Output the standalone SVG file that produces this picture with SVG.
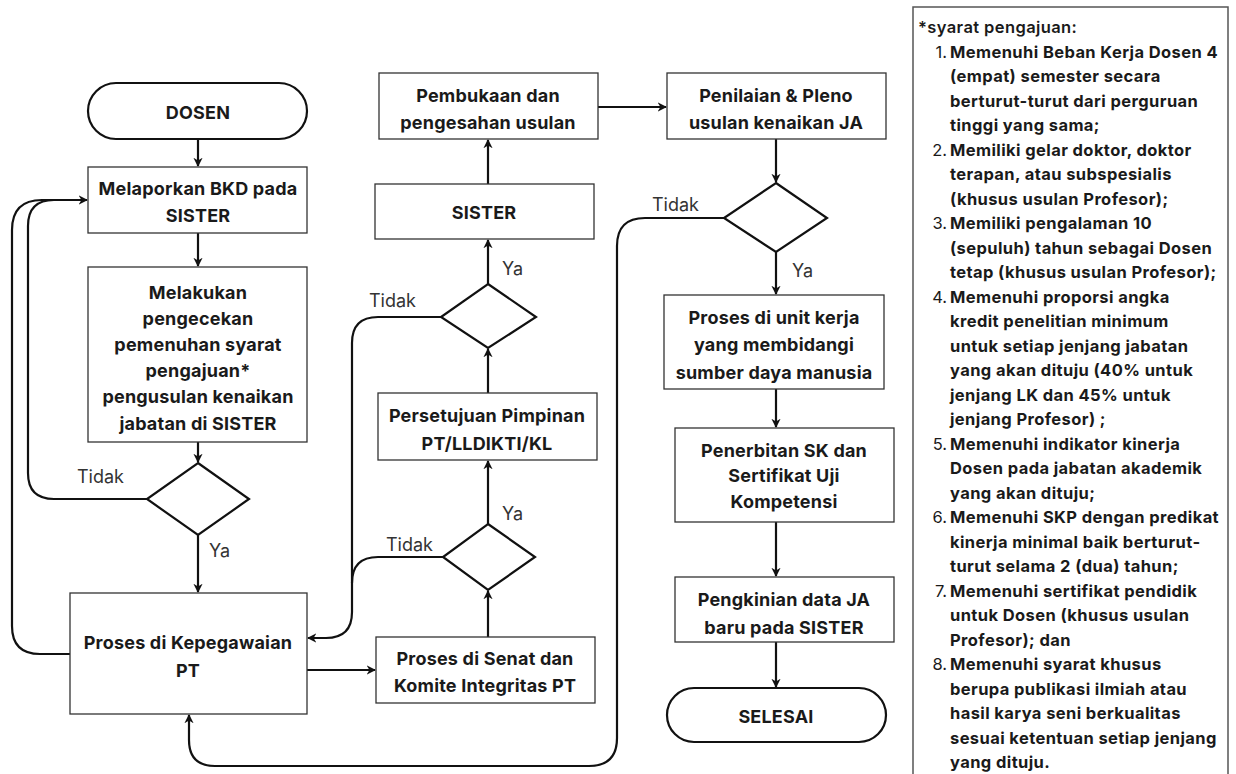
<svg xmlns="http://www.w3.org/2000/svg" width="1236" height="774" viewBox="0 0 1236 774">
<style>
.box{fill:#fff;stroke:#333;stroke-width:1.3}
.term{fill:#fff;stroke:#111;stroke-width:2.2}
.dia{fill:#fff;stroke:#111;stroke-width:2.2}
.t{font-family:Inter,"Liberation Sans",sans-serif;font-weight:700;font-size:18px;letter-spacing:0.2px;fill:#1a1a1a;text-anchor:middle;dominant-baseline:central}
.lbl{font-family:Inter,"Liberation Sans",sans-serif;font-weight:400;font-size:18px;fill:#333;dominant-baseline:central}
.c{fill:none;stroke:#111;stroke-width:2.2}
.p{font-family:Inter,"Liberation Sans",sans-serif;font-weight:700;font-size:16.5px;letter-spacing:0.4px;fill:#1a1a1a;dominant-baseline:central}
.n{font-family:Inter,"Liberation Sans",sans-serif;font-weight:400;font-size:16.5px;fill:#1a1a1a;dominant-baseline:central;text-anchor:end}
</style>
<defs>
<marker id="ah" viewBox="0 0 10 10" refX="9" refY="5" markerWidth="4.2" markerHeight="4.2" orient="auto" markerUnits="strokeWidth">
<path d="M0,0 L10,5 L0,10 L3,5 z" fill="#111"/>
</marker>
</defs>
<rect width="1236" height="774" fill="#fff"/>

<g id="connectors">
<path class="c" d="M198,139 V166" marker-end="url(#ah)"/>
<path class="c" d="M198,233 V266" marker-end="url(#ah)"/>
<path class="c" d="M198,442 V462" marker-end="url(#ah)"/>
<path class="c" d="M198,535 V592" marker-end="url(#ah)"/>
<path class="c" d="M147,499 H54 Q28,499 28,473 V226 Q28,200 54,200 H87" marker-end="url(#ah)"/>
<path class="c" d="M70,654 H40 Q12,654 12,626 V230 Q12,200 42,200 H60"/>
<path class="c" d="M307,670 H375" marker-end="url(#ah)"/>
<path class="c" d="M488,637 V591" marker-end="url(#ah)"/>
<path class="c" d="M488,524 V461" marker-end="url(#ah)"/>
<path class="c" d="M488,393 V349" marker-end="url(#ah)"/>
<path class="c" d="M488,284 V240" marker-end="url(#ah)"/>
<path class="c" d="M488,184 V140" marker-end="url(#ah)"/>
<path class="c" d="M441,317 H378 Q352,317 352,343 V612 Q352,638 326,638 H308" marker-end="url(#ah)"/>
<path class="c" d="M443,557 H378 Q352,557 352,583"/>
<path class="c" d="M598,107 H666" marker-end="url(#ah)"/>
<path class="c" d="M776,139 V182" marker-end="url(#ah)"/>
<path class="c" d="M776,252 V294" marker-end="url(#ah)"/>
<path class="c" d="M776,389 V427" marker-end="url(#ah)"/>
<path class="c" d="M776,522 V576" marker-end="url(#ah)"/>
<path class="c" d="M776,642 V687" marker-end="url(#ah)"/>
<path class="c" d="M724,218 H645 Q617,218 617,246 V738 Q617,766 589,766 H215 Q189,766 189,740 V715" marker-end="url(#ah)"/>
<text class="lbl" x="77" y="476">Tidak</text>
<text class="lbl" x="209" y="550">Ya</text>
<text class="lbl" x="369" y="300">Tidak</text>
<text class="lbl" x="502" y="268">Ya</text>
<text class="lbl" x="386" y="544">Tidak</text>
<text class="lbl" x="502" y="513">Ya</text>
<text class="lbl" x="652" y="204">Tidak</text>
<text class="lbl" x="792" y="270">Ya</text>
</g>

<g id="dosen">
<rect class="term" x="88" y="83" width="219" height="56" rx="28"/>
<text class="t" x="198" y="112">DOSEN</text>
</g>
<g id="melaporkan">
<rect class="box" x="88" y="167" width="219" height="66"/>
<text class="t" x="198" y="188">Melaporkan BKD pada</text>
<text class="t" x="198" y="215">SISTER</text>
</g>
<g id="melakukan">
<rect class="box" x="88" y="267" width="219" height="175"/>
<text class="t" x="198" y="292">Melakukan</text>
<text class="t" x="198" y="318">pengecekan</text>
<text class="t" x="198" y="344">pemenuhan syarat</text>
<text class="t" x="198" y="370">pengajuan*</text>
<text class="t" x="198" y="396">pengusulan kenaikan</text>
<text class="t" x="198" y="423">jabatan di SISTER</text>
</g>
<g id="dec1">
<polygon class="dia" points="198,463 249,499 198,535 147,499"/>
</g>
<g id="kepegawaian">
<rect class="box" x="70" y="593" width="237" height="121"/>
<text class="t" x="188" y="642">Proses di Kepegawaian</text>
<text class="t" x="188" y="670">PT</text>
</g>
<g id="senat">
<rect class="box" x="376" y="637" width="219" height="66"/>
<text class="t" x="485" y="658">Proses di Senat dan</text>
<text class="t" x="485" y="685">Komite Integritas PT</text>
</g>
<g id="dec2">
<polygon class="dia" points="488,524 535,557 488,590 443,557"/>
</g>
<g id="persetujuan">
<rect class="box" x="378" y="393" width="219" height="67"/>
<text class="t" x="487" y="415">Persetujuan Pimpinan</text>
<text class="t" x="487" y="443">PT/LLDIKTI/KL</text>
</g>
<g id="dec3">
<polygon class="dia" points="488,284 536,317 488,348 441,317"/>
</g>
<g id="sister">
<rect class="box" x="375" y="184" width="219" height="55"/>
<text class="t" x="484" y="212">SISTER</text>
</g>
<g id="pembukaan">
<rect class="box" x="379" y="73" width="219" height="66"/>
<text class="t" x="488" y="95">Pembukaan dan</text>
<text class="t" x="488" y="122">pengesahan usulan</text>
</g>
<g id="penilaian">
<rect class="box" x="667" y="73" width="219" height="66"/>
<text class="t" x="776" y="95">Penilaian &amp; Pleno</text>
<text class="t" x="776" y="122">usulan kenaikan JA</text>
</g>
<g id="dec4">
<polygon class="dia" points="776,183 827,218 776,252 724,218"/>
</g>
<g id="unit">
<rect class="box" x="664" y="295" width="220" height="94"/>
<text class="t" x="774" y="317">Proses di unit kerja</text>
<text class="t" x="774" y="344">yang membidangi</text>
<text class="t" x="774" y="372">sumber daya manusia</text>
</g>
<g id="penerbitan">
<rect class="box" x="675" y="428" width="219" height="94"/>
<text class="t" x="784" y="450">Penerbitan SK dan</text>
<text class="t" x="784" y="475">Sertifikat Uji</text>
<text class="t" x="784" y="501">Kompetensi</text>
</g>
<g id="pengkinian">
<rect class="box" x="675" y="577" width="219" height="65"/>
<text class="t" x="784" y="599">Pengkinian data JA</text>
<text class="t" x="784" y="627">baru pada SISTER</text>
</g>
<g id="selesai">
<rect class="term" x="667" y="688" width="219" height="54" rx="27"/>
<text class="t" x="776" y="716">SELESAI</text>
</g>

<g id="syarat">
<rect x="913" y="7" width="315" height="780" fill="#fff" stroke="#555" stroke-width="1.5"/>
<text class="p" x="918" y="27" style="font-weight:600">*syarat pengajuan:</text>
<text class="n" x="947" y="51.5">1.</text>
<text class="p" x="950" y="51.5">Memenuhi Beban Kerja Dosen 4</text>
<text class="p" x="950" y="76">(empat) semester secara</text>
<text class="p" x="950" y="100.5">berturut-turut dari perguruan</text>
<text class="p" x="950" y="125">tinggi yang sama;</text>
<text class="n" x="947" y="149.5">2.</text>
<text class="p" x="950" y="149.5">Memiliki gelar doktor, doktor</text>
<text class="p" x="950" y="174">terapan, atau subspesialis</text>
<text class="p" x="950" y="198.5">(khusus usulan Profesor);</text>
<text class="n" x="947" y="223">3.</text>
<text class="p" x="950" y="223">Memiliki pengalaman 10</text>
<text class="p" x="950" y="247.5">(sepuluh) tahun sebagai Dosen</text>
<text class="p" x="950" y="272">tetap (khusus usulan Profesor);</text>
<text class="n" x="947" y="296.5">4.</text>
<text class="p" x="950" y="296.5">Memenuhi proporsi angka</text>
<text class="p" x="950" y="321">kredit penelitian minimum</text>
<text class="p" x="950" y="345.5">untuk setiap jenjang jabatan</text>
<text class="p" x="950" y="370">yang akan dituju (40% untuk</text>
<text class="p" x="950" y="394.5">jenjang LK dan 45% untuk</text>
<text class="p" x="950" y="419">jenjang Profesor) ;</text>
<text class="n" x="947" y="443.5">5.</text>
<text class="p" x="950" y="443.5">Memenuhi indikator kinerja</text>
<text class="p" x="950" y="468">Dosen pada jabatan akademik</text>
<text class="p" x="950" y="492.5">yang akan dituju;</text>
<text class="n" x="947" y="517">6.</text>
<text class="p" x="950" y="517">Memenuhi SKP dengan predikat</text>
<text class="p" x="950" y="541.5">kinerja minimal baik berturut-</text>
<text class="p" x="950" y="566">turut selama 2 (dua) tahun;</text>
<text class="n" x="947" y="590.5">7.</text>
<text class="p" x="950" y="590.5">Memenuhi sertifikat pendidik</text>
<text class="p" x="950" y="615">untuk Dosen (khusus usulan</text>
<text class="p" x="950" y="639.5">Profesor); dan</text>
<text class="n" x="947" y="664">8.</text>
<text class="p" x="950" y="664">Memenuhi syarat khusus</text>
<text class="p" x="950" y="688.5">berupa publikasi ilmiah atau</text>
<text class="p" x="950" y="713">hasil karya seni berkualitas</text>
<text class="p" x="950" y="737.5">sesuai ketentuan setiap jenjang</text>
<text class="p" x="950" y="762">yang dituju.</text>
</g>
</svg>
